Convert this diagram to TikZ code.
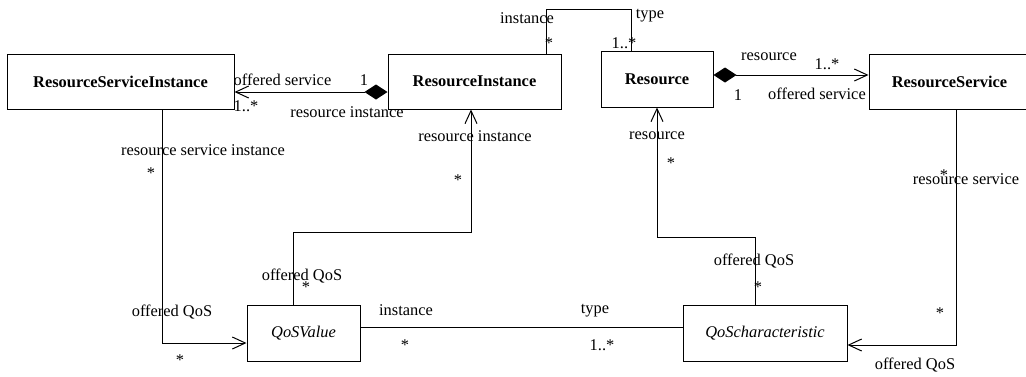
\documentclass[tikz,border=0pt]{standalone}
\usepackage{fontspec}
\setmainfont{Liberation Serif}
\usetikzlibrary{arrows.meta}

\begin{document}
\begin{tikzpicture}[x=.5pt,y=-.5pt,line width=.5pt,
  font=\fontsize{8.2}{9.5}\selectfont,
  cls/.style={draw,minimum height=27.5pt,inner sep=0pt,font=\fontsize{8.2}{9.5}\selectfont\bfseries},
  abs/.style={draw,minimum height=28pt,inner sep=0pt,font=\fontsize{8.2}{9.5}\selectfont\itshape},
  lbl/.style={inner sep=0pt},
  comp/.style={{Diamond[length=11.5pt,width=7.5pt]}-{Straight Barb[length=6.5pt,width=6pt]}},
  nav/.style={-{Straight Barb[length=6.5pt,width=6pt]}}]
  \useasboundingbox (0,0) rectangle (1026,376);
  % classes
  \node[cls,minimum width=113.5pt] (rsi) at (120.5,81.5) {ResourceServiceInstance};
  \node[cls,minimum width=86.5pt] (ri) at (474.5,81.5) {ResourceInstance};
  \node[cls,minimum width=56pt,minimum height=28pt] (res) at (657,79) {Resource};
  \node[cls,minimum width=80.5pt] (rs) at (949.5,81.5) {ResourceService};
  \node[abs,minimum width=56.5pt] (qv) at (303.5,333) {QoSValue};
  \node[abs,minimum width=82pt] (qc) at (765,333) {QoScharacteristic};
  % associations
  \draw[comp] (ri.west |- 0,92) -- (rsi.east |- 0,92);
  \draw (ri.north -| 546,0) -- (546,9) -- (631,9) -- (res.north -| 631,0);
  \draw[comp] (res.east |- 0,75) -- (rs.west |- 0,75);
  \draw[nav] (rsi.south -| 162,0) |- (qv.west |- 0,343);
  \draw[nav] (qv.north -| 293,0) -- (293,232) -| (ri.south -| 471,0);
  \draw (qv.east |- 0,327) -- (qc.west |- 0,327);
  \draw[nav] (qc.north -| 755,0) -- (755,237) -| (res.south -| 657,0);
  \draw[nav] (rs.south -| 956,0) |- (qc.east |- 0,345);
  % role names and multiplicities
  \node[lbl] (l1) at (282.5,80) {offered service};
  \node[lbl] (l2) at (246,106) {1..*};
  \node[lbl] (l3) at (364,80) {1};
  \node[lbl] (l4) at (347,112) {resource instance};
  \node[lbl] (l5) at (527,18) {instance};
  \node[lbl] (l6) at (549,43) {*};
  \node[lbl] (l7) at (650,16) {type};
  \node[lbl] (l8) at (624,43) {1..*};
  \node[lbl] (l9) at (769,57) {resource};
  \node[lbl] (l10) at (827,64) {1..*};
  \node[lbl] (l11) at (738,95) {1};
  \node[lbl] (l12) at (817,94) {offered service};
  \node[lbl] (l13) at (203,150) {resource service instance};
  \node[lbl] (l14) at (151,173) {*};
  \node[lbl] (l15) at (475,136) {resource instance};
  \node[lbl] (l16) at (458,180) {*};
  \node[lbl] (l17) at (657,136) {resource};
  \node[lbl] (l18) at (671,163) {*};
  \node[lbl] (l19) at (966,179) {resource service};
  \node[lbl] (l20) at (944,175) {*};
  \node[lbl] (l21) at (302,276) {offered QoS};
  \node[lbl] (l22) at (306,287) {*};
  \node[lbl] (l23) at (172,312) {offered QoS};
  \node[lbl] (l24) at (180,360) {*};
  \node[lbl] (l25) at (406,310) {instance};
  \node[lbl] (l26) at (405,345) {*};
  \node[lbl] (l27) at (595,311) {type};
  \node[lbl] (l28) at (602,345) {1..*};
  \node[lbl] (l29) at (754,261) {offered QoS};
  \node[lbl] (l30) at (758,287) {*};
  \node[lbl] (l31) at (940,313) {*};
  \node[lbl] (l32) at (915,365) {offered QoS};
\end{tikzpicture}
\end{document}
